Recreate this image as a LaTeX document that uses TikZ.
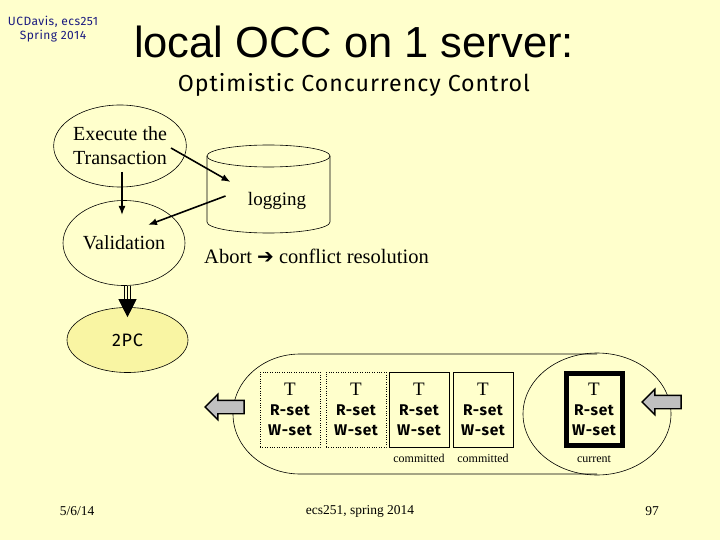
\documentclass[tikz,border=0pt]{standalone}
\usepackage{fontspec}
\setmainfont{Liberation Serif}
\newfontfamily\arialfont{Liberation Sans}
\newfontfamily\comicfont[LetterSpace=4]{Fira Sans}
\newfontfamily\symfont{DejaVu Sans}
\usetikzlibrary{positioning,arrows.meta,calc,shapes.geometric,shapes.arrows}
\definecolor{slidebg}{HTML}{FFFFCC}
\definecolor{pcfill}{HTML}{F9F5A3}
\definecolor{arrowgray}{HTML}{C0C0C0}
\definecolor{headblue}{HTML}{1A1A80}

\begin{document}
\begin{tikzpicture}[x=1pt,y=-1pt,every node/.style={inner sep=0pt},
  bubble/.style={draw,ellipse,line width=0.6pt,align=center,font=\fontsize{20}{24}\selectfont},
  flow/.style={line width=1.6pt,-{Latex[length=9pt,width=7pt]}},
  tbox/.style={draw,rectangle,minimum width=60pt,minimum height=75pt,align=center,
    font=\comicfont\bfseries\fontsize{15.5}{20}\selectfont},
  note/.style={font=\fontsize{12}{14}\selectfont},
  blockarrow/.style={single arrow,draw,fill=arrowgray,line width=1.4pt,shape border rotate=180,
    single arrow head extend=6pt,inner xsep=0pt,inner ysep=6pt,minimum height=39pt}]
\fill[slidebg] (0,0) rectangle (720,540);

% header
\node[align=center,text=headblue,font=\comicfont\fontsize{12}{14}\selectfont] (hdr) at (53,29) {UCDavis, ecs251\\Spring 2014};
\node[font=\arialfont\fontsize{43.5}{50}\selectfont] (title) at (354,42) {local OCC on 1 server:};
\node[font=\comicfont\fontsize{23.2}{26}\selectfont] (subtitle) at (354,85) {Optimistic Concurrency Control};

% flow on the left
\node[bubble,minimum width=120pt,minimum height=82pt] (exec) at (120,146) {Execute the\\Transaction};
\node[bubble,minimum width=122pt,minimum height=85pt] (valid) at (124,243) {Validation};
\node[bubble,fill=pcfill,minimum width=121pt,minimum height=65pt,font=\comicfont\fontsize{18}{22}\selectfont] (tpc) at (127.5,340) {2PC};
\node[minimum width=123pt,minimum height=88pt] (logdb) at (268.5,189) {};
\draw[line width=0.6pt] (logdb.center) ++(0,-33) ellipse[x radius=61.5pt,y radius=11pt];
\draw[line width=0.6pt] (logdb.center) ++(-61.5,-33) -- ++(0,66)
  arc[start angle=180,end angle=360,x radius=61.5pt,y radius=11pt] -- ++(0,-66);
\node[font=\fontsize{19}{22}\selectfont] (logtext) at (277,201) {logging};
\node[anchor=west,font=\fontsize{20.5}{24}\selectfont] (abort) at (204,256) {Abort {\symfont\bfseries\fontsize{20}{20}\selectfont ➔} conflict resolution};

\draw[flow] ($(exec.center)+(2,26)$) -- ($(valid.center)+(-2,-28)$);
\draw[flow] ($(exec.center)+(51,2)$) -- ($(logdb.center)+(-38,-7)$);
\draw[flow] ($(logdb.center)+(-43,7)$) -- ($(valid.center)+(24,-18)$);

% triple arrow into 2PC
\draw[line width=0.7pt,-{Triangle[length=18pt,width=18pt]}] (valid.south -| tpc.north) -- ([yshift=-10pt]tpc.north);
\foreach \dx in {-2.7,2.7}
  \draw[line width=0.7pt] ([xshift=\dx pt]valid.south -| tpc.north) -- ([xshift=\dx pt,yshift=8pt]tpc.north);

% transaction queue
\draw[line width=0.6pt] (597,354) -- (300,354) arc[start angle=90,end angle=270,x radius=67pt,y radius=60pt] -- (597,474);
\node[draw,ellipse,line width=0.6pt,minimum width=148pt,minimum height=122pt] (curzone) at (597,414) {};

\foreach \i/\xc/\sty in {1/290/dotted,2/356/dotted,3/419/solid,4/483/solid}
  \node[tbox,\sty] (tx\i) at (\xc,409.5) {{\rmfamily\mdseries\fontsize{19}{20}\selectfont T}\\R-set\\W-set};
\node[tbox,line width=5pt,minimum width=56pt,minimum height=72pt] (tx5) at (594,409.5) {{\rmfamily\mdseries\fontsize{19}{20}\selectfont T}\\R-set\\W-set};

\node[note,below=7pt of tx3] (cm3) {committed};
\node[note,below=7pt of tx4] (cm4) {committed};
\node[note,below=8pt of tx5] (cur) {current};

\node[blockarrow] (outarrow) at (228,407) {};
\node[blockarrow] (inarrow) at (665,402) {};

% footer
\node[font=\fontsize{13.5}{15}\selectfont] (date) at (77,511) {5/6/14};
\node[font=\fontsize{13.5}{15}\selectfont] (course) at (360,511) {ecs251, spring 2014};
\node[font=\fontsize{13.5}{15}\selectfont] (page) at (652,511) {97};
\end{tikzpicture}
\end{document}
